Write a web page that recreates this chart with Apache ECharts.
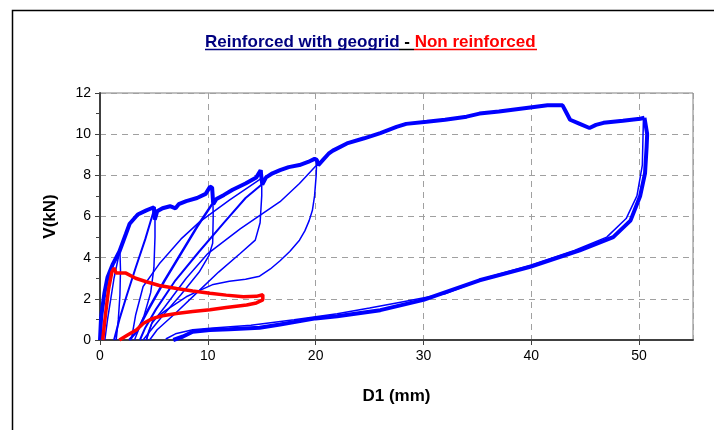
<!DOCTYPE html>
<html>
<head>
<meta charset="utf-8">
<script src="https://cdn.jsdelivr.net/npm/echarts@6/dist/echarts.min.js"></script>
<style>
html,body{margin:0;padding:0;background:#fff;}
#c{width:714px;height:430px;}
</style>
</head>
<body>
<div id="c"></div>
<script>
// ---- data (D1 in mm, V in kN) ----
var xTicks = [0, 10, 20, 30, 40, 50];
var yTicks = [0, 2, 4, 6, 8, 10, 12];

// reinforced: loading envelope
var reinfEnvelope = [[0,0],[0.1,1.1],[0.4,2.25],[0.7,3.05],[1.2,3.7],[1.8,4.3],[2.4,5.15],[2.75,5.65],[3.5,6.1],[4.3,6.3],[5.0,6.45],[5.08,5.85],[5.3,6.25],[5.8,6.4],[6.5,6.5],[7.0,6.4],[7.3,6.6],[8.0,6.75],[9.0,6.9],[9.8,7.1],[10.2,7.45],[10.4,7.4],[10.5,6.6],[10.8,6.85],[11.5,7.05],[12.3,7.3],[13.5,7.6],[14.5,7.9],[14.9,8.25],[15.05,7.55],[15.4,7.9],[16,8.1],[16.7,8.25],[17.5,8.4],[18.5,8.5],[19.3,8.65],[19.9,8.8],[20.1,8.75],[20.25,8.5],[20.6,8.7],[21.2,9.05],[21.6,9.2],[22.9,9.55],[24.5,9.8],[26,10.05],[27.5,10.35],[28.4,10.5],[30.3,10.6],[32,10.7],[34,10.85],[35.2,11.0],[37,11.1],[39.9,11.3],[41.5,11.4],[42.9,11.4],[43.2,11.1],[43.6,10.7],[44.5,10.5],[45.4,10.3],[46,10.45],[46.7,10.55],[48.5,10.65],[50.1,10.75],[50.5,10.8]];
// reinforced: final unloading from 50 mm
var reinfUnload50 = [[50.5,10.8],[50.75,10.0],[50.7,9.4],[50.55,8.1],[50.1,7.0],[49.2,5.8],[47.6,5.0],[44.5,4.35],[39.9,3.55],[35.2,2.9],[30,1.95],[26,1.45],[22,1.15],[20,1.05],[16.7,0.75],[14.8,0.6],[12,0.52],[10.2,0.48],[8.6,0.4],[7.7,0.17],[6.8,0]];
var reinfReload50 = [[6.1,0.05],[7,0.3],[8.6,0.5],[10.5,0.58],[14,0.72],[18,0.98],[22,1.28],[25,1.55],[28,1.85],[32,2.25],[36,3.05],[40,3.65],[44,4.35],[47,5.0],[48.8,5.9],[49.8,7.0],[50.3,8.5],[50.4,10.7]];
// reinforced: small cycles
var reload2  = [[0.45,0],[0.7,1.0],[1.0,2.0],[1.3,3.0],[1.8,4.25]];
var unload2  = [[1.85,4.3],[1.9,3.4],[1.85,2.2],[1.7,1.0],[1.5,0]];
var reload5  = [[1.3,0],[1.8,1.0],[2.5,2.2],[3.3,3.5],[4.2,4.9],[5.0,6.3]];
var unload5  = [[5.1,6.3],[5.1,5.0],[5.0,3.5],[4.7,2.3],[4.1,1.2],[3.5,0.4],[3.2,0]];
var reload10 = [[2.7,0],[3.4,0.4],[4.5,1.5],[6,2.9],[7.5,4.2],[9,5.5],[10.4,6.6]];
var unload10 = [[10.45,7.45],[10.5,6.0],[10.45,4.7],[10.1,4.1],[9.2,3.3],[7.5,2.2],[6,1.3],[4.6,0.4],[4.0,0]];
var reload15 = [[3.7,0],[4.2,0.6],[5.2,1.5],[7,2.9],[9.2,4.3],[11.5,5.7],[13.5,6.9],[15.0,7.55]];
var reload15b = [[2.9,0],[3.3,1.2],[4.0,2.6],[5.5,3.7],[7.5,4.9],[9.24,5.74],[12,6.8],[14.97,7.85]];
var unload15 = [[15.0,8.25],[15.0,7.0],[14.85,5.7],[14.4,4.85],[13,4.2],[11,3.3],[9,2.3],[7,1.3],[5.3,0.5],[4.6,0]];
var reload20 = [[4.3,0],[4.8,0.8],[6,1.6],[8,3.0],[10,4.2],[13,5.4],[16.7,6.72],[18.5,7.6],[20.1,8.5]];
var unload20 = [[20.1,8.8],[20.05,8.0],[19.9,7.0],[19.7,6.3],[19.4,5.8],[19.0,5.3],[18.5,4.85],[17.6,4.3],[16.7,3.85],[15.8,3.45],[14.8,3.1],[13.5,2.95],[12.0,2.85],[10.5,2.7],[9,2.35],[8,2.1],[6,1.4],[4.9,0.95],[4.5,0.4],[4.3,0]];
// non reinforced
var nonReinf = [[0.25,0],[0.5,1.2],[0.8,2.5],[1.1,3.3],[1.3,3.5],[1.5,3.25],[2.4,3.25],[3.3,3.0],[4.3,2.83],[5.5,2.65],[7.1,2.5],[8.6,2.38],[10.2,2.27],[11.7,2.18],[13.3,2.1],[14.5,2.12],[15.1,2.2],[15.1,1.95],[14.5,1.8],[13.6,1.7],[11.7,1.58],[10.2,1.47],[8.6,1.38],[7.1,1.29],[5.8,1.18],[4.9,1.05],[4.0,0.8],[3.4,0.5],[2.6,0.25],[1.8,0]];

var BLUE = '#0000ff', RED = '#ff0000';
function ln(data, color, w) {
  return {type:'line', data:data, showSymbol:false, symbol:'none', smooth:false,
    lineStyle:{color:color, width:w}, animation:false, silent:true, z:3};
}
var series = [
  ln(reinfReload50, BLUE, 1.5),
  ln(reload2, BLUE, 1.5), ln(unload2, BLUE, 1.5),
  ln(reload5, BLUE, 2), ln(unload5, BLUE, 1.5),
  ln(reload10, BLUE, 2.5), ln(unload10, BLUE, 1.5),
  ln(reload15, BLUE, 2), ln(reload15b, BLUE, 1.5), ln(unload15, BLUE, 1.5),
  ln(reload20, BLUE, 1.5), ln(unload20, BLUE, 1.5),
  ln(reinfUnload50, BLUE, 4),
  ln(reinfEnvelope, BLUE, 4),
  ln(nonReinf, RED, 3.5)
];

var FONT = 'Liberation Sans, Arial, sans-serif';
var chart = echarts.init(document.getElementById('c'), null, {renderer:'canvas'});
chart.setOption({
  backgroundColor:'#fff',
  animation:false,
  title:{
    text:'{a|Reinforced with geogrid}{b| - }{c|Non reinforced}',
    left:200, top:29,
    textStyle:{fontFamily:FONT, fontSize:17, fontWeight:'bold',
      rich:{a:{color:'#000080',fontFamily:FONT,fontSize:17,fontWeight:'bold'},
            b:{color:'#000000',fontFamily:FONT,fontSize:17,fontWeight:'bold'},
            c:{color:'#ff0000',fontFamily:FONT,fontSize:17,fontWeight:'bold'}}}
  },
  graphic:[
    {type:'rect', shape:{x:12.5,y:10.5,width:760,height:480}, style:{fill:null, stroke:'#000', lineWidth:1.5}, silent:true},
    {type:'line', shape:{x1:205,y1:49.5,x2:399,y2:49.5}, style:{stroke:'#000080', lineWidth:1.5}},
    {type:'line', shape:{x1:399,y1:49.5,x2:414,y2:49.5}, style:{stroke:'#000', lineWidth:1.5}},
    {type:'line', shape:{x1:414,y1:49.5,x2:537,y2:49.5}, style:{stroke:'#ff0000', lineWidth:1.5}}
  ],
  grid:{left:100, right:21, top:93, bottom:90, show:true, borderColor:'#808080', borderWidth:1, backgroundColor:'transparent'},
  xAxis:{type:'value', min:0, max:55, interval:10,
    name:'D1 (mm)', nameLocation:'middle', nameGap:48,
    nameTextStyle:{fontFamily:FONT, fontSize:17, fontWeight:'bold', color:'#000'},
    axisLine:{show:true, onZero:false, lineStyle:{color:'#404040', width:2}},
    axisTick:{show:true, length:5, inside:false, lineStyle:{color:'#404040'}},
    axisLabel:{fontFamily:FONT, fontSize:14, color:'#000', margin:9, showMaxLabel:false,
      formatter:function(v){return xTicks.indexOf(v)>=0?String(v):'';}},
    splitLine:{show:true, lineStyle:{color:'#a0a0a0', type:[6,5], width:1}}
  },
  yAxis:{type:'value', min:0, max:12, interval:2,
    name:'V(kN)', nameLocation:'middle', nameGap:41, nameRotate:90,
    nameTextStyle:{fontFamily:FONT, fontSize:17, fontWeight:'bold', color:'#000'},
    axisLine:{show:true, onZero:false, lineStyle:{color:'#404040', width:2}},
    axisTick:{show:true, length:5, inside:false, lineStyle:{color:'#404040'}},
    minorTick:{show:true, splitNumber:2, length:4, lineStyle:{color:'#404040'}},
    axisLabel:{fontFamily:FONT, fontSize:14, color:'#000', margin:9,
      formatter:function(v){return yTicks.indexOf(v)>=0?String(v):'';}},
    splitLine:{show:true, lineStyle:{color:'#a0a0a0', type:[6,5], width:1}}
  },
  series:series
});
</script>
</body>
</html>
